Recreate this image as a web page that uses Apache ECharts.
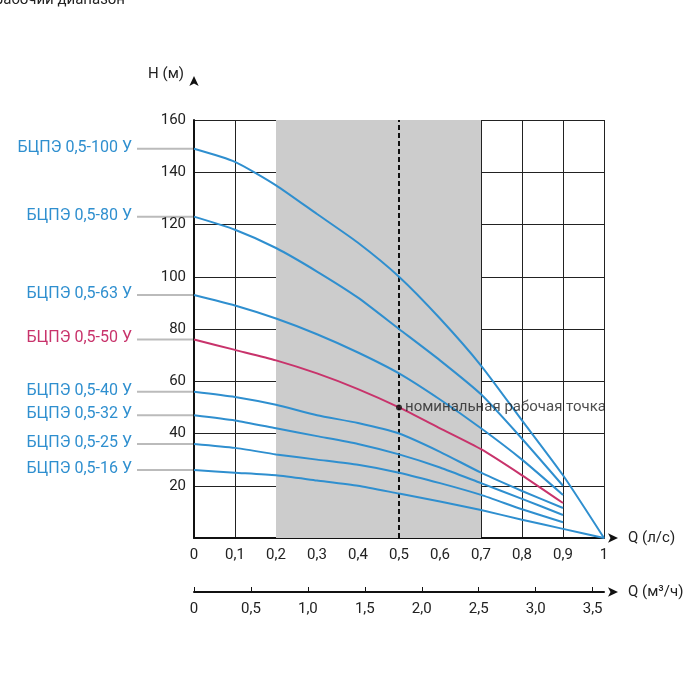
<!DOCTYPE html>
<html><head><meta charset="utf-8">
<script src="https://cdn.jsdelivr.net/npm/echarts@6/dist/echarts.min.js"></script>
<style>html,body{margin:0;background:#fff}#c{width:700px;height:700px}</style>
</head><body><div id="c"></div>
<script>
var qLs = [0, 0.1, 0.2, 0.3, 0.4, 0.5, 0.6, 0.7, 0.8, 0.9, 1.0];
var names = ['БЦПЭ 0,5-100 У','БЦПЭ 0,5-80 У','БЦПЭ 0,5-63 У','БЦПЭ 0,5-50 У','БЦПЭ 0,5-40 У','БЦПЭ 0,5-32 У','БЦПЭ 0,5-25 У','БЦПЭ 0,5-16 У'];
var h100 = [149, 144, 135, 124, 113, 100, 84, 66, 45, 24, 0];
var h80 = [123, 118, 111, 102, 92, 80, 68, 55, 38, 20];
var h63 = [93, 89, 84, 78, 71, 63, 53, 42, 30, 16.5];
var h50 = [76, 72, 68, 63, 57, 50, 42, 34, 24, 13.4];
var h40 = [56, 54, 51, 47, 44, 40, 33, 25, 18, 11.5];
var h32 = [47, 45, 42, 39, 36, 32, 27, 21, 15, 8.8];
var h25 = [36, 34.5, 32, 30, 28, 25, 21, 16.5, 11, 6];
var h16 = [26, 25, 24, 22, 20, 17, 14, 10.7, 7, 3.5, 0];
var curves = [h100, h80, h63, h50, h40, h32, h25, h16];
var m3Ticks = [0, 0.5, 1.0, 1.5, 2.0, 2.5, 3.0, 3.5];

var blue = '#2f8fcf', red = '#c8336b';
var chart = echarts.init(document.getElementById('c'));
var fmt = function (v) { return String(v).replace('.', ','); };

var series = curves.map(function (arr, i) {
  return {
    type: 'line', name: names[i], data: arr.map(function (v, k) { return [qLs[k], v]; }),
    smooth: 0.2, symbol: 'none',
    lineStyle: { color: i === 3 ? red : blue, width: 2 }, z: 5
  };
});
series.push({
  type: 'line', data: [],
  markArea: { silent: true, itemStyle: { color: '#cccccc' }, data: [[{ xAxis: 0.2 }, { xAxis: 0.7 }]] },
  markLine: { silent: true, symbol: 'none', label: { show: false },
    lineStyle: { color: '#111', type: [5, 3], width: 2 }, data: [{ xAxis: 0.5 }] },
  z: 1
});
series.push({
  type: 'scatter', data: [[0.5, 50]], symbolSize: 6, itemStyle: { color: '#111' }, z: 10,
  label: { show: true, position: 'right', distance: 3, formatter: 'номинальная рабочая точка', color: '#222', fontSize: 15, fontFamily: 'Roboto' }
});

var txt = { color: '#222', fontSize: 15, fontFamily: 'Roboto' };
var axLine = { show: true, onZero: false, lineStyle: { color: '#111', width: 2 }, symbol: ['none', 'arrow'], symbolSize: [7, 10], symbolOffset: [0, 14] };
chart.setOption({
  animation: false,
  grid: { left: 194, right: 96, top: 120, bottom: 162 },
  xAxis: [{
    type: 'value', min: 0, max: 1, interval: 0.1, position: 'bottom',
    axisLine: axLine, axisTick: { show: false },
    axisLabel: Object.assign({ margin: 10, formatter: fmt }, txt),
    splitLine: { lineStyle: { color: '#222', width: 1 } },
    name: 'Q (л/с)', nameGap: 24, nameTextStyle: txt
  }, {
    type: 'value', min: 0, max: 3.6, interval: 0.5, position: 'bottom', offset: 54,
    axisLine: axLine,
    axisTick: { show: true, inside: true, length: 5, lineStyle: { color: '#111' } },
    axisLabel: Object.assign({ margin: 10, showMaxLabel: false, formatter: function (v) { return v === 0 ? '0' : fmt(v.toFixed(1)); } }, txt),
    splitLine: { show: false },
    name: 'Q (м³/ч)', nameGap: 24, nameTextStyle: txt
  }],
  yAxis: {
    type: 'value', min: 0, max: 160, interval: 20,
    axisLine: { show: true, lineStyle: { color: '#111', width: 2 }, symbol: ['none', 'arrow'], symbolSize: [7, 10], symbolOffset: [0, 44] },
    axisTick: { show: false },
    axisLabel: Object.assign({ margin: 8, showMinLabel: false }, txt),
    splitLine: { lineStyle: { color: '#222', width: 1 } },
    name: 'H (м)', nameLocation: 'end', nameGap: 38, nameTextStyle: Object.assign({ align: 'right', padding: [0, 10, 0, 0] }, txt)
  },
  series: series
});

var g = [];
var top = chart.convertToPixel({ xAxisIndex: 0, yAxisIndex: 0 }, [0.45, 160]);
g.push({ type: 'text', x: top[0], y: top[1] - 19, style: { text: 'рекомендуемый рабочий диапазон', fill: '#222', font: '15px Roboto', textAlign: 'center', textVerticalAlign: 'middle' } });
curves.forEach(function (arr, i) {
  var p = chart.convertToPixel({ xAxisIndex: 0, yAxisIndex: 0 }, [0, arr[0]]);
  g.push({ type: 'line', shape: { x1: 137, y1: p[1], x2: p[0], y2: p[1] }, style: { stroke: '#bbb', lineWidth: 2 } });
  g.push({ type: 'text', x: 132, y: p[1] - 1, style: { text: names[i], fill: i === 3 ? red : blue, font: '16px Roboto', textAlign: 'right', textVerticalAlign: 'middle' } });
});
chart.setOption({ graphic: g });
</script></body></html>
